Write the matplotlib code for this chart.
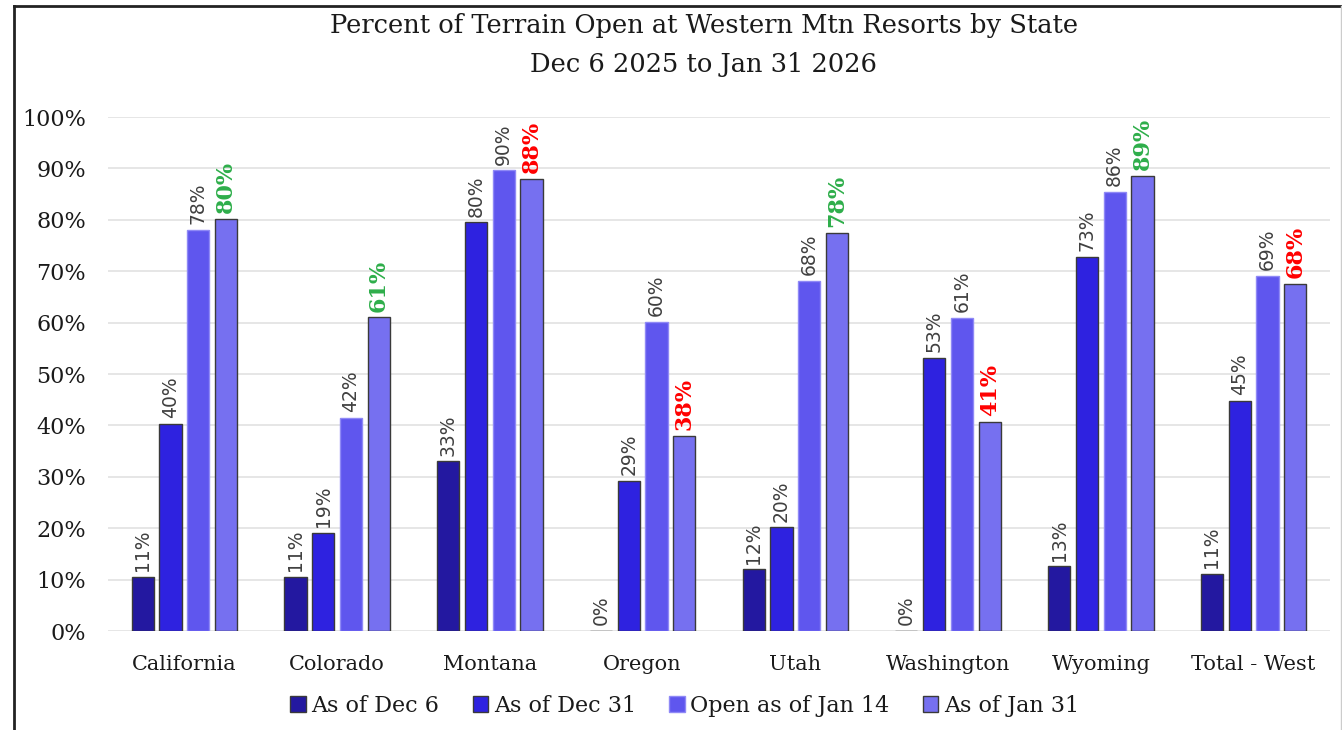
import numpy as np
import matplotlib
matplotlib.use("Agg")
import matplotlib.pyplot as plt
from matplotlib.lines import Line2D

# data (percent of terrain open)
states = ["California", "Colorado", "Montana", "Oregon", "Utah",
          "Washington", "Wyoming", "Total - West"]
dec6 = [10.6, 10.6, 33.0, 0.0, 12.0, 0.0, 12.6, 11.1]
dec31 = [40.3, 19.1, 79.5, 29.2, 20.2, 53.2, 72.8, 44.8]
jan14 = [78.1, 41.5, 89.6, 60.2, 68.1, 60.9, 85.5, 69.1]
jan31 = [80.2, 61.0, 88.0, 38.0, 77.5, 40.7, 88.6, 67.6]
series_names = ["As of Dec 6", "As of Dec 31", "Open as of Jan 14", "As of Jan 31"]

# colours
bar_colors = ["#2318A0", "#2E22E0", "#5F56EE", "#7670F0"]
edge_colors = ["#3a3a3a", "#3a3a3a", "#8F89F6", "#3a3a3a"]
up_color = "#2EAE4A"
down_color = "#FF0000"
label_gray = "#404040"

serif = "DejaVu Serif"

fig = plt.figure(figsize=(13.42, 7.30), dpi=100)
ax = fig.add_axes([0.0805, 0.1356, 0.9105, 0.7041])

x = np.arange(len(states))
pitch = 0.182
width = 0.145
all_series = [dec6, dec31, jan14, jan31]

for i, vals in enumerate(all_series):
    offs = (i - 1.5) * pitch
    bars = ax.bar(x + offs, vals, width, color=bar_colors[i],
                  edgecolor=edge_colors[i], linewidth=1.0,
                  label=series_names[i], zorder=3)
    for j, b in enumerate(bars):
        v = vals[j]
        txt = f"{round(v):d}%"
        if i == 3:
            # green when Jan 31 is above Jan 14, red when below
            col = up_color if jan31[j] > jan14[j] else down_color
            ax.annotate(txt, (b.get_x() + b.get_width() / 2, v),
                        xytext=(0, 4), textcoords="offset points",
                        rotation=90, ha="center", va="bottom",
                        fontsize=16, fontweight="bold", color=col,
                        family=serif)
        else:
            ax.annotate(txt, (b.get_x() + b.get_width() / 2, v),
                        xytext=(0, 4), textcoords="offset points",
                        rotation=90, ha="center", va="bottom",
                        fontsize=13.5, color=label_gray, family="DejaVu Sans")

ax.set_xlim(-0.5, len(states) - 0.5)
ax.set_ylim(0, 100)
ax.set_yticks(np.arange(0, 101, 10))
ax.set_yticklabels([f"{t}%" for t in range(0, 101, 10)])
ax.set_xticks(x)
ax.set_xticklabels(states)

for lab in ax.get_xticklabels() + ax.get_yticklabels():
    lab.set_family(serif)
    lab.set_color("#1a1a1a")
for lab in ax.get_yticklabels():
    lab.set_fontsize(16)
for lab in ax.get_xticklabels():
    lab.set_fontsize(15)

ax.tick_params(axis="both", length=0)
ax.tick_params(axis="y", pad=16)
ax.tick_params(axis="x", pad=17)

ax.grid(axis="y", color="#e2e2e2", linewidth=1.2, zorder=0)
ax.set_axisbelow(True)
for s in ax.spines.values():
    s.set_visible(False)

# title (two lines)
fig.text(0.5245, 0.965, "Percent of Terrain Open at Western Mtn Resorts by State",
         ha="center", va="center", fontsize=18.5, family=serif, color="#1a1a1a")
fig.text(0.5245, 0.912, "Dec 6 2025 to Jan 31 2026",
         ha="center", va="center", fontsize=18.5, family=serif, color="#1a1a1a")

# legend under the chart
leg = ax.legend(loc="center", bbox_to_anchor=(0.472, -0.146), ncol=4,
                frameon=False, handlelength=0.7, handleheight=0.7,
                handletextpad=0.25, columnspacing=1.5,
                prop={"family": serif, "size": 16})
for t in leg.get_texts():
    t.set_color("#1a1a1a")

# border of the chart area
fig.add_artist(Line2D([0.0105, 0.0105], [0.0, 0.992], color="#222222", lw=2.0))
fig.add_artist(Line2D([0.0105, 1.0], [0.992, 0.992], color="#222222", lw=2.0))
fig.add_artist(Line2D([0.9993, 0.9993], [0.0, 0.992], color="#cccccc", lw=1.0))

plt.savefig("out.png", dpi=100, facecolor="white")
